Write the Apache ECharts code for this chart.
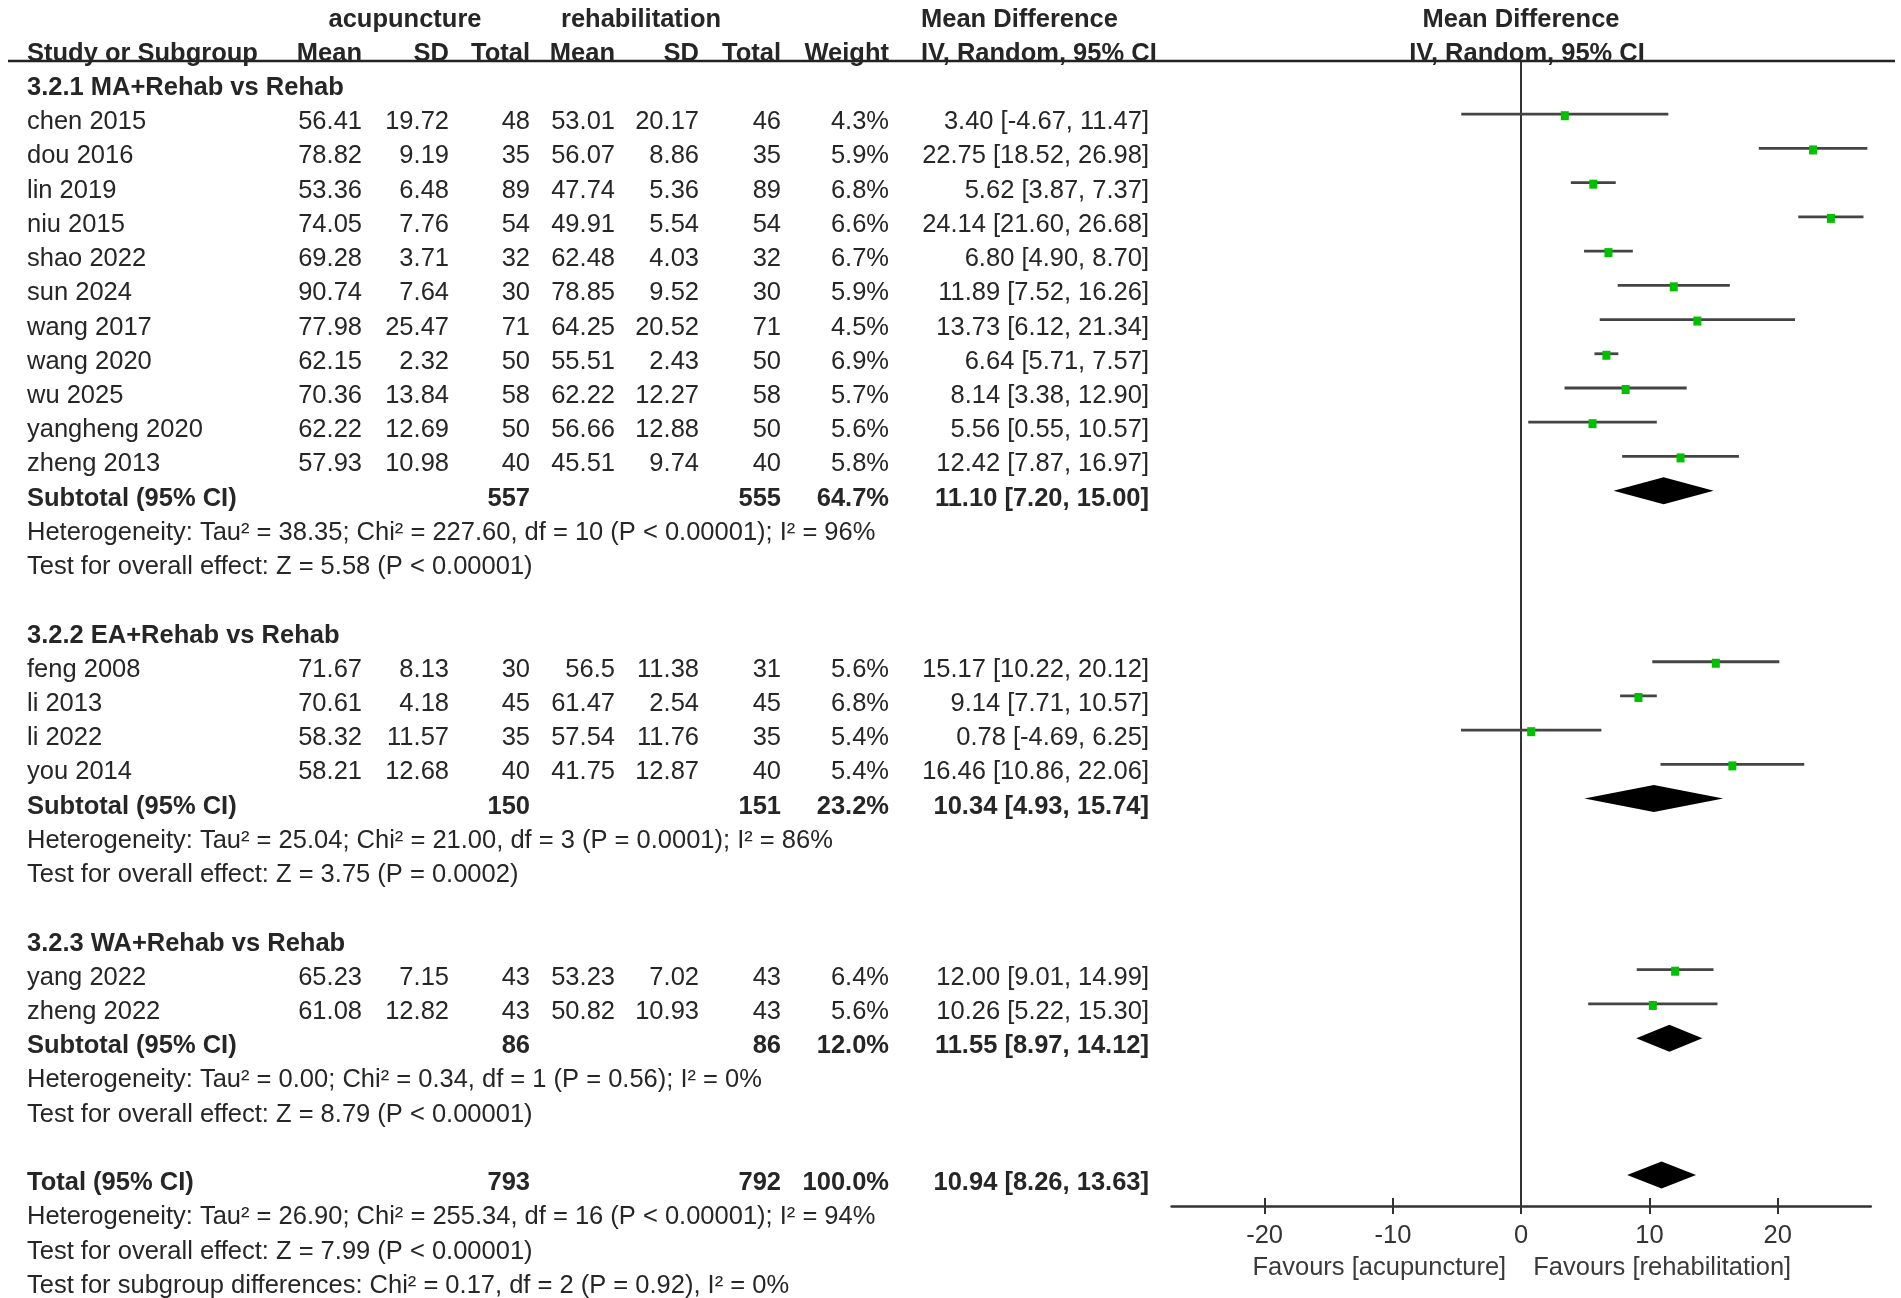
<!DOCTYPE html>
<html><head><meta charset="utf-8">
<script src="https://cdn.jsdelivr.net/npm/echarts@6/dist/echarts.min.js"></script>
<style>html,body{margin:0;padding:0;background:#fff}#c{width:1901px;height:1298px}</style>
</head><body><div id="c"></div>
<script>
// ---------------- DATA ----------------
const groupTitles = ['3.2.1 MA+Rehab vs Rehab', '3.2.2 EA+Rehab vs Rehab', '3.2.3 WA+Rehab vs Rehab'];
const studyNames = ['chen 2015','dou 2016','lin 2019','niu 2015','shao 2022','sun 2024','wang 2017','wang 2020','wu 2025','yangheng 2020','zheng 2013',
  'feng 2008','li 2013','li 2022','you 2014',
  'yang 2022','zheng 2022'];
const studyGroup = [0,0,0,0,0,0,0,0,0,0,0, 1,1,1,1, 2,2];
const acuMean = [56.41,78.82,53.36,74.05,69.28,90.74,77.98,62.15,70.36,62.22,57.93, 71.67,70.61,58.32,58.21, 65.23,61.08];
const acuSD   = [19.72,9.19,6.48,7.76,3.71,7.64,25.47,2.32,13.84,12.69,10.98, 8.13,4.18,11.57,12.68, 7.15,12.82];
const acuTotal= [48,35,89,54,32,30,71,50,58,50,40, 30,45,35,40, 43,43];
const rehMean = [53.01,56.07,47.74,49.91,62.48,78.85,64.25,55.51,62.22,56.66,45.51, 56.5,61.47,57.54,41.75, 53.23,50.82];
const rehSD   = [20.17,8.86,5.36,5.54,4.03,9.52,20.52,2.43,12.27,12.88,9.74, 11.38,2.54,11.76,12.87, 7.02,10.93];
const rehTotal= [46,35,89,54,32,30,71,50,58,50,40, 31,45,35,40, 43,43];
const weight  = [4.3,5.9,6.8,6.6,6.7,5.9,4.5,6.9,5.7,5.6,5.8, 5.6,6.8,5.4,5.4, 6.4,5.6];
const md      = [3.40,22.75,5.62,24.14,6.80,11.89,13.73,6.64,8.14,5.56,12.42, 15.17,9.14,0.78,16.46, 12.00,10.26];
const ciLow   = [-4.67,18.52,3.87,21.60,4.90,7.52,6.12,5.71,3.38,0.55,7.87, 10.22,7.71,-4.69,10.86, 9.01,5.22];
const ciHigh  = [11.47,26.98,7.37,26.68,8.70,16.26,21.34,7.57,12.90,10.57,16.97, 20.12,10.57,6.25,22.06, 14.99,15.30];

const subAcuTotal = [557,150,86];
const subRehTotal = [555,151,86];
const subWeight   = [64.7,23.2,12.0];
const subMD   = [11.10,10.34,11.55];
const subLow  = [7.20,4.93,8.97];
const subHigh = [15.00,15.74,14.12];
const subHet  = ['Heterogeneity: Tau\u00B2 = 38.35; Chi\u00B2 = 227.60, df = 10 (P < 0.00001); I\u00B2 = 96%',
                 'Heterogeneity: Tau\u00B2 = 25.04; Chi\u00B2 = 21.00, df = 3 (P = 0.0001); I\u00B2 = 86%',
                 'Heterogeneity: Tau\u00B2 = 0.00; Chi\u00B2 = 0.34, df = 1 (P = 0.56); I\u00B2 = 0%'];
const subTest = ['Test for overall effect: Z = 5.58 (P < 0.00001)',
                 'Test for overall effect: Z = 3.75 (P = 0.0002)',
                 'Test for overall effect: Z = 8.79 (P < 0.00001)'];

const totalAcu = 793, totalReh = 792, totalWeight = 100.0;
const totalMD = 10.94, totalLow = 8.26, totalHigh = 13.63;
const totalNotes = ['Heterogeneity: Tau\u00B2 = 26.90; Chi\u00B2 = 255.34, df = 16 (P < 0.00001); I\u00B2 = 94%',
                    'Test for overall effect: Z = 7.99 (P < 0.00001)',
                    'Test for subgroup differences: Chi\u00B2 = 0.17, df = 2 (P = 0.92), I\u00B2 = 0%'];
const axisTicks = [-20, -10, 0, 10, 20];
const favoursLeft = 'Favours [acupuncture]', favoursRight = 'Favours [rehabilitation]';

// ---------------- LAYOUT ----------------
const W = 1901, H = 1298;
const pitch = 34.22, row0Y = 88;
const tMin = -2, tMax = 35;
const tableTop = row0Y + tMin * pitch, tableBot = row0Y + tMax * pitch;
const plotTop = 61, plotBot = 1206;
const pMin = (plotTop - row0Y) / pitch, pMax = (plotBot - row0Y) / pitch;
const plotLeft = 1171.6, plotRight = 1870.8;
const xMin = -27.25, xMax = 27.25;
const FONT = '"Liberation Sans", Arial, Helvetica, sans-serif';
const FS = 25.5;
const TXT = '#262626';

const colName = 27;
const colR = [362, 449, 530, 615, 699, 781, 889, 1149];

const fmt2 = v => v.toFixed(2);
const ci = (m,l,h) => fmt2(m) + ' [' + fmt2(l) + ', ' + fmt2(h) + ']';

const texts = [];
const studyPts = [];
const diamonds = [];
function T(x, r, s, a, b) { texts.push({x, r, s, a: a || 'left', b: !!b}); }

T(405, -2, 'acupuncture', 'center', true);
T(641, -2, 'rehabilitation', 'center', true);
T(921, -2, 'Mean Difference', 'left', true);
T(1521, -2, 'Mean Difference', 'center', true);
T(colName, -1, 'Study or Subgroup', 'left', true);
['Mean','SD','Total','Mean','SD','Total','Weight'].forEach((h, i) => T(colR[i], -1, h, 'right', true));
T(921, -1, 'IV, Random, 95% CI', 'left', true);
T(1527, -1, 'IV, Random, 95% CI', 'center', true);

let row = 0;
for (let g = 0; g < groupTitles.length; g++) {
  T(colName, row, groupTitles[g], 'left', true); row++;
  for (let i = 0; i < studyNames.length; i++) {
    if (studyGroup[i] !== g) continue;
    T(colName, row, studyNames[i]);
    const vals = [String(acuMean[i]), String(acuSD[i]), String(acuTotal[i]), String(rehMean[i]), String(rehSD[i]), String(rehTotal[i]),
                  weight[i].toFixed(1) + '%', ci(md[i], ciLow[i], ciHigh[i])];
    vals.forEach((v, k) => T(colR[k], row, v, 'right'));
    studyPts.push([md[i], ciLow[i], ciHigh[i], row]);
    row++;
  }
  T(colName, row, 'Subtotal (95% CI)', 'left', true);
  T(colR[2], row, String(subAcuTotal[g]), 'right', true);
  T(colR[5], row, String(subRehTotal[g]), 'right', true);
  T(colR[6], row, subWeight[g].toFixed(1) + '%', 'right', true);
  T(colR[7], row, ci(subMD[g], subLow[g], subHigh[g]), 'right', true);
  diamonds.push([subMD[g], subLow[g], subHigh[g], row]);
  row++;
  T(colName, row, subHet[g]); row++;
  T(colName, row, subTest[g]); row++;
  row++;
}
T(colName, row, 'Total (95% CI)', 'left', true);
T(colR[2], row, String(totalAcu), 'right', true);
T(colR[5], row, String(totalReh), 'right', true);
T(colR[6], row, totalWeight.toFixed(1) + '%', 'right', true);
T(colR[7], row, ci(totalMD, totalLow, totalHigh), 'right', true);
diamonds.push([totalMD, totalLow, totalHigh, row]);
row++;
totalNotes.forEach(n => { T(colName, row, n); row++; });

const chart = echarts.init(document.getElementById('c'), null, {renderer: 'canvas', width: W, height: H});
const MARK_DY = -8;

chart.setOption({
  animation: false,
  backgroundColor: '#fff',
  grid: [
    {left: 0, width: W, top: tableTop, height: tableBot - tableTop},
    {left: plotLeft, width: plotRight - plotLeft, top: plotTop, height: plotBot - plotTop}
  ],
  xAxis: [
    {gridIndex: 0, type: 'value', min: 0, max: W, show: false},
    {gridIndex: 1, type: 'value', min: xMin, max: xMax, position: 'bottom',
      axisLine: {show: true, onZero: false, lineStyle: {color: '#333', width: 2.5}},
      axisTick: {show: true, length: 8, customValues: axisTicks, lineStyle: {color: '#333', width: 2}},
      axisLabel: {show: true, customValues: axisTicks, margin: 17, fontSize: FS, fontFamily: FONT, color: '#333'},
      splitLine: {show: false}},
    {gridIndex: 1, type: 'value', min: xMin, max: xMax, position: 'bottom',
      axisLine: {show: false, onZero: false},
      axisTick: {show: true, inside: true, length: 8, customValues: axisTicks, lineStyle: {color: '#333', width: 2}},
      axisLabel: {show: false}, splitLine: {show: false}}
  ],
  yAxis: [
    {gridIndex: 0, type: 'value', min: tMin, max: tMax, inverse: true, show: false},
    {gridIndex: 1, type: 'value', min: pMin, max: pMax, inverse: true,
      axisLine: {show: true, onZero: true, lineStyle: {color: '#333', width: 2}},
      axisTick: {show: false}, axisLabel: {show: false}, splitLine: {show: false}}
  ],
  series: [
    {
      type: 'custom', xAxisIndex: 0, yAxisIndex: 0, silent: true,
      data: [[8, pMin, 1895]],
      renderItem: (p, api) => {
        const a = api.coord([api.value(0), api.value(1)]);
        const b = api.coord([api.value(2), api.value(1)]);
        return {type: 'line', shape: {x1: a[0], y1: a[1], x2: b[0], y2: b[1]}, style: {stroke: '#222', lineWidth: 2.5}};
      }
    },
    {
      type: 'custom', xAxisIndex: 0, yAxisIndex: 0, silent: true,
      data: texts.map(t => [t.x, t.r]),
      renderItem: (p, api) => {
        const t = texts[p.dataIndex];
        const c = api.coord([t.x, t.r]);
        return {type: 'text', x: c[0], y: c[1], style: {
          text: t.s, align: t.a, verticalAlign: 'middle', fill: TXT,
          fontSize: FS, fontFamily: FONT, fontWeight: t.b ? 'bold' : 'normal'}};
      }
    },
    {
      type: 'custom', xAxisIndex: 1, yAxisIndex: 1, silent: true,
      data: [[0, 0]],
      renderItem: (p, api) => {
        const z = api.coord([0, pMax]);
        const y = z[1] + 61.5;
        return {type: 'group', children: [
          {type: 'text', x: z[0] - 15, y: y, style: {text: favoursLeft, align: 'right', verticalAlign: 'middle', fill: '#3a3a3a', fontSize: FS, fontFamily: FONT}},
          {type: 'text', x: z[0] + 12, y: y, style: {text: favoursRight, align: 'left', verticalAlign: 'middle', fill: '#3a3a3a', fontSize: FS, fontFamily: FONT}}
        ]};
      }
    },
    {
      type: 'custom', xAxisIndex: 1, yAxisIndex: 1, silent: true,
      data: studyPts,
      encode: {x: [0, 1, 2], y: 3},
      renderItem: (p, api) => {
        const y = api.coord([0, api.value(3)])[1] + MARK_DY;
        const xl = api.coord([api.value(1), 0])[0];
        const xh = api.coord([api.value(2), 0])[0];
        const xm = api.coord([api.value(0), 0])[0];
        return {type: 'group', children: [
          {type: 'line', shape: {x1: xl, y1: y, x2: xh, y2: y}, style: {stroke: '#444', lineWidth: 2.8}},
          {type: 'rect', shape: {x: xm - 4, y: y - 3, width: 8, height: 9}, style: {fill: '#00c000'}}
        ]};
      }
    },
    {
      type: 'custom', xAxisIndex: 1, yAxisIndex: 1, silent: true,
      data: diamonds,
      encode: {x: [0, 1, 2], y: 3},
      renderItem: (p, api) => {
        const y = api.coord([0, api.value(3)])[1] + MARK_DY;
        const xl = api.coord([api.value(1), 0])[0];
        const xh = api.coord([api.value(2), 0])[0];
        const xm = api.coord([api.value(0), 0])[0];
        const h = 13.5;
        return {type: 'polygon', shape: {points: [[xl, y], [xm, y - h], [xh, y], [xm, y + h]]}, style: {fill: '#000'}};
      }
    }
  ]
});
</script>
</body></html>
